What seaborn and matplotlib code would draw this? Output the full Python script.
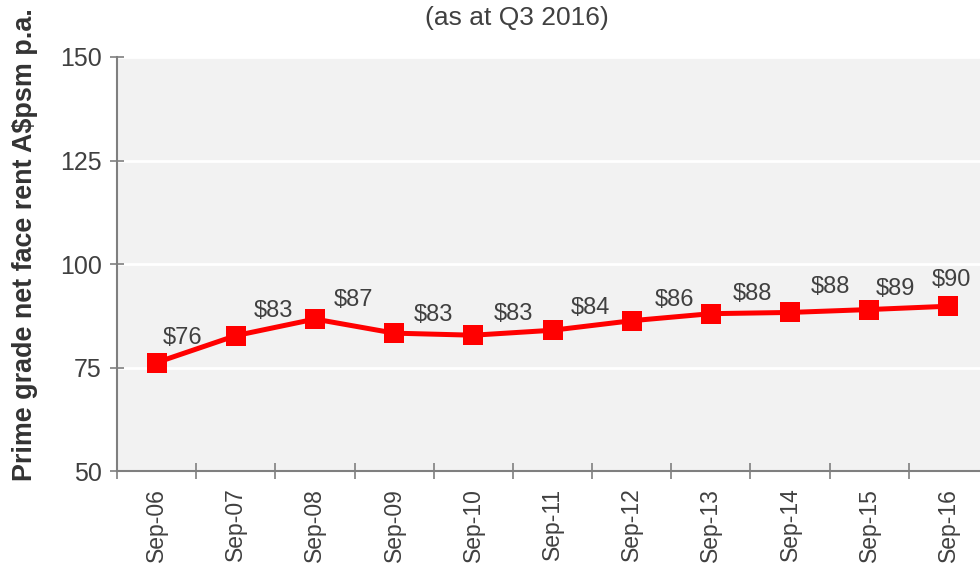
import matplotlib
matplotlib.use("Agg")
import matplotlib.pyplot as plt
from matplotlib.ticker import FixedLocator
import seaborn as sns
import pandas as pd

# data
months = ["Sep-06", "Sep-07", "Sep-08", "Sep-09", "Sep-10", "Sep-11",
          "Sep-12", "Sep-13", "Sep-14", "Sep-15", "Sep-16"]
rents = [76.2, 82.7, 86.7, 83.3, 82.8, 84.0, 86.3, 88.0, 88.3, 89.0, 89.8]
rent_labels = ["$76", "$83", "$87", "$83", "$83", "$84",
               "$86", "$88", "$88", "$89", "$90"]
y_ticks = [50, 75, 100, 125, 150]

# label nudges in points (layout only)
label_dx = [19, 27, 28, 28, 29, 27, 31, 30, 29, 19, 2]
label_dy = [18, 18, 14, 13, 15, 16, 15, 14, 18, 15, 19]

sns.set_style("white")
plt.rcParams["font.family"] = ["Liberation Sans", "DejaVu Sans"]

text_col = "#404040"
axis_col = "#7f7f7f"

df = pd.DataFrame({"month": months, "rent": rents})

fig = plt.figure(figsize=(9.8, 5.63), dpi=100)
ax = fig.add_axes([117 / 980, 1 - 471 / 563, (988 - 117) / 980, (471 - 57) / 563])
ax.set_facecolor("#f2f2f2")

sns.lineplot(data=df, x="month", y="rent", ax=ax, color="#ff0000",
             linewidth=3.6, marker="s", markersize=14, markeredgewidth=0,
             zorder=3)

for i, (v, lab) in enumerate(zip(rents, rent_labels)):
    ax.annotate(lab, (i, v), xytext=(label_dx[i], label_dy[i]),
                textcoords="offset points", ha="center", va="center",
                fontsize=17, color=text_col, zorder=4)

ax.set_xlim(-0.5, len(months) - 0.5)
ax.set_ylim(50, 150)
ax.set_yticks(y_ticks)
ax.yaxis.grid(True, color="white", linewidth=2)
ax.xaxis.grid(False)
ax.set_axisbelow(True)

ax.set_xticks(range(len(months)))
ax.set_xticklabels(months, rotation=90)
ax.xaxis.set_minor_locator(FixedLocator([i - 0.5 for i in range(len(months) + 1)]))
ax.tick_params(axis="both", which="both", bottom=True, left=True)
ax.tick_params(axis="x", which="major", length=0, pad=12, labelsize=16.5,
               labelcolor=text_col)
ax.tick_params(axis="x", which="minor", direction="inout", length=12,
               width=1.2, color=axis_col)
ax.tick_params(axis="y", direction="inout", length=10, width=1.2,
               color=axis_col, pad=6, labelsize=18, labelcolor=text_col)

for s in ["top", "right"]:
    ax.spines[s].set_visible(False)
for s in ["left", "bottom"]:
    ax.spines[s].set_color(axis_col)
    ax.spines[s].set_linewidth(1.5)

ax.set_xlabel("")
ax.set_ylabel("")

fig.text(25 / 980, 1 - 481 / 563, "Prime grade net face rent A$psm p.a.",
         rotation=90, ha="center", va="bottom", fontsize=19.4,
         fontweight="bold", color="#333333")
fig.text(517 / 980, 1 - 18 / 563, "(as at Q3 2016)", ha="center",
         va="center", fontsize=19, color=text_col)

fig.savefig("out.png", dpi=100, facecolor="white")
